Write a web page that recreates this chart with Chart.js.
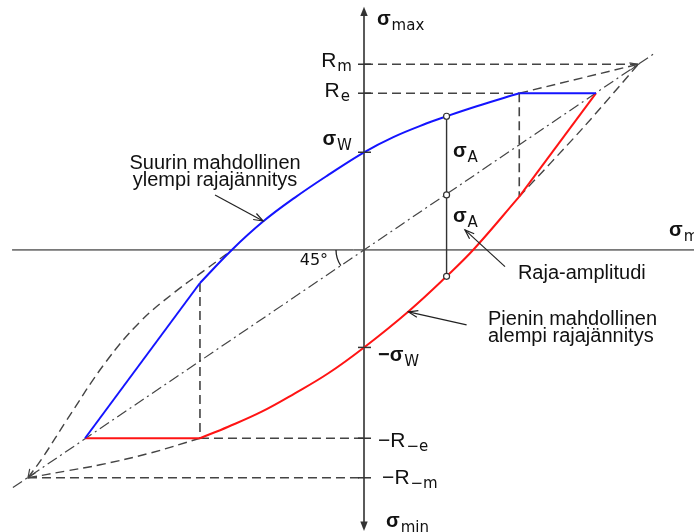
<!DOCTYPE html>
<html><head><meta charset="utf-8">
<script src="https://cdn.jsdelivr.net/npm/chart.js@4/dist/chart.umd.min.js"></script>
<style>html,body{margin:0;padding:0;background:#fff;}#wrap{width:694px;height:532px;position:relative;}</style>
</head><body><div id="wrap"><canvas id="c"></canvas></div>
<script>
// ---- Stress levels (Rm = 100) ----
const Rm = 100, Re = 84.4, sigmaW = 52.6, negSigmaW = -52.5, negRe = -101.4, negRm = -122.7;
const apexLow = -122.5;
// ---- Upper limit curve (sigma_max vs sigma_m) ----
const upperX = [-59.8, -48.2, -36.7, -25.2, -13.0, 0, 10.7, 22.9, 30.1, 41.1, 56.6];
const upperY = [-17.8, 0, 15.4, 28.2, 40.4, 52.6, 60.8, 68.2, 72.0, 77.4, 84.4];
// ---- Lower limit curve (sigma_min vs sigma_m) ----
const lowerX = [-59.8, -49.5, -37.3, -25.2, -13.0, 0, 16.2, 30.1, 40.1, 56.6];
const lowerY = [-101.4, -95.2, -87.1, -77.2, -66.4, -52.5, -33.1, -14.2, 0.5, 28.7];
// ---- Straight limit segments ----
const blueLeftX = [-101.7, -59.8], blueLeftY = [-101.4, -17.8];
const blueTopX = [56.6, 84.6], blueTopY = [84.4, 84.4];
const redBottomX = [-101.7, -59.8], redBottomY = [-101.4, -101.4];
const redRightX = [56.6, 84.6], redRightY = [28.7, 84.4];
// ---- Dashed curve extensions ----
const extUpLeftX = [-122.5, -117.0, -108.3, -94.4, -81.7, -68.9, -58.0, -48.1];
const extUpLeftY = [-122.7, -111.5, -91.5, -60.9, -38.8, -22.6, -10.8, 0];
const extLowLeftX = [-122.5, -108.4, -96.2, -78.0, -59.8];
const extLowLeftY = [-122.7, -119.0, -115.7, -109.4, -101.4];
const extUpRightX = [56.6, 100], extUpRightY = [84.4, 100];
const extLowRightX = [56.6, 80, 100], extLowRightY = [28.7, 66, 100];
// ---- 45 degree line ----
const diagX = [-128, 106], diagY = [-128, 106];
// ---- sigma_A example at sigma_m ----
const sigmaAX = 30.1, sigmaAY = [72.0, 29.6, -14.2];

const P = (xs, ys) => xs.map((x, i) => ({x, y: ys[i]}));
const BLUE = '#1414ff', RED = '#ff1414', DK = '#444';
const dash = [9, 5], dashDot = [11, 4, 2, 4];

function ds(data, color, width, d, tension) {
  return {data, borderColor: color, borderWidth: width, borderDash: d || [], showLine: true,
    pointRadius: 0, fill: false, tension: tension || 0};
}

const datasets = [
  ds(P(upperX, upperY), BLUE, 2, null, 0.4),
  ds(P(lowerX, lowerY), RED, 2, null, 0.4),
  ds(P(blueLeftX, blueLeftY), BLUE, 2),
  ds(P(blueTopX, blueTopY), BLUE, 2),
  ds(P(redBottomX, redBottomY), RED, 2),
  ds(P(redRightX, redRightY), RED, 2),
  ds(P(extUpLeftX, extUpLeftY), DK, 1.4, dash, 0.4),
  ds(P(extLowLeftX, extLowLeftY), DK, 1.4, dash, 0.4),
  ds(P(extUpRightX, extUpRightY), DK, 1.4, dash),
  ds(P(extLowRightX, extLowRightY), DK, 1.4, dash, 0.3),
  ds(P([0, Rm], [Rm, Rm]), DK, 1.4, dash),
  ds(P([0, upperX[upperX.length-1]], [Re, Re]), DK, 1.4, dash),
  ds(P([-59.8, 0], [negRe, negRe]), DK, 1.4, dash),
  ds(P([apexLow, 0], [negRm, negRm]), DK, 1.4, dash),
  ds(P([56.6, 56.6], [Re, 28.7]), DK, 1.6, dash),
  ds(P([-59.8, -59.8], [-17.8, negRe]), DK, 1.6, dash),
  ds(P(diagX, diagY), DK, 1.2, dashDot),
  ds(P([sigmaAX, sigmaAX], [sigmaAY[0], sigmaAY[2]]), '#333', 1.4),
];

// ---- annotation layout (positions in data units) ----
const FONT = '"Liberation Sans", Arial, sans-serif';
const SUBFONT = '"DejaVu Sans", sans-serif';
const labels = [
  {x: -4.4, y: 102.3, main: 'R', sub: 'm', align: 'right'},
  {x: -5.1, y: 86.2, main: 'R', sub: 'e', align: 'right'},
  {x: -4.4, y: 58.2, main: 'σ', sub: 'W', align: 'right', greek: true},
  {x: 5.1, y: -58.2, main: '−σ', sub: 'W', align: 'left', greek: true},
  {x: 5.1, y: -102.3, main: '−R', sub: '−e', align: 'left'},
  {x: 6.6, y: -122.2, main: '−R', sub: '−m', align: 'left'},
  {x: 4.7, y: 122.8, main: 'σ', sub: 'max', align: 'left', greek: true},
  {x: 8.0, y: -147.5, main: 'σ', sub: 'min', align: 'left', greek: true},
  {x: 32.4, y: 51.7, main: 'σ', sub: 'A', align: 'left', greek: true},
  {x: 32.4, y: 16.7, main: 'σ', sub: 'A', align: 'left', greek: true},
  {x: 111.2, y: 9.2, main: 'σ', sub: 'm', align: 'left', greek: true},
];
const texts = [
  {x: -54.3, y: 46.3, t: 'Suurin mahdollinen', align: 'center'},
  {x: -54.3, y: 37.2, t: 'ylempi rajajännitys', align: 'center'},
  {x: 56.1, y: -12.9, t: 'Raja-amplitudi', align: 'left'},
  {x: 45.2, y: -37.7, t: 'Pienin mahdollinen', align: 'left'},
  {x: 45.2, y: -46.8, t: 'alempi rajajännitys', align: 'left'},
  {x: -13.1, y: -5.9, t: '45°', align: 'right', size: 16, font: SUBFONT},
];
const arrows = [
  {from: [-54.3, 29.6], to: [-36.8, 15.6]},
  {from: [51.4, -9.0], to: [36.8, 10.8]},
  {from: [37.4, -40.4], to: [16.2, -33.4]},
];
const ticks = [Rm, Re, sigmaW, negSigmaW, negRe, negRm];

function arrowHead(ctx, x1, y1, x2, y2, len, ang, filled) {
  const a = Math.atan2(y2 - y1, x2 - x1);
  ctx.beginPath();
  ctx.moveTo(x2 - len * Math.cos(a - ang), y2 - len * Math.sin(a - ang));
  ctx.lineTo(x2, y2);
  ctx.lineTo(x2 - len * Math.cos(a + ang), y2 - len * Math.sin(a + ang));
  if (filled) { ctx.closePath(); ctx.fill(); } else ctx.stroke();
}

const overlay = {
  id: 'overlay',
  beforeDatasetsDraw(chart) {
    const {ctx, scales: {x, y}} = chart;
    const px = v => x.getPixelForValue(v), py = v => y.getPixelForValue(v);
    ctx.save();
    ctx.strokeStyle = '#111'; ctx.lineWidth = 1;
    ctx.beginPath(); ctx.moveTo(px(-128.3), py(0)); ctx.lineTo(px(121), py(0)); ctx.stroke();
    ctx.strokeStyle = '#5a5a5a'; ctx.fillStyle = '#333'; ctx.lineWidth = 2;
    const x0 = px(0);
    ctx.beginPath(); ctx.moveTo(x0, py(126)); ctx.lineTo(x0, py(-147)); ctx.stroke();
    arrowHead(ctx, x0, py(0), x0, py(131), 10, 0.38, true);
    arrowHead(ctx, x0, py(0), x0, py(-151.3), 10, 0.38, true);
    ctx.restore();
  },
  afterDatasetsDraw(chart) {
    const {ctx, scales: {x, y}} = chart;
    const px = v => x.getPixelForValue(v), py = v => y.getPixelForValue(v);
    ctx.save();
    ctx.strokeStyle = '#333'; ctx.lineWidth = 1.5;
    ticks.forEach(v => { ctx.beginPath(); ctx.moveTo(px(0) - 6, py(v)); ctx.lineTo(px(0) + 7, py(v)); ctx.stroke(); });
    ctx.strokeStyle = DK; ctx.lineWidth = 1.2;
    arrowHead(ctx, px(extUpRightX[0]), py(extUpRightY[0]), px(100), py(100), 9, 0.4, false);
    arrowHead(ctx, px(extUpLeftX[2]), py(extUpLeftY[2]), px(apexLow), py(negRm), 9, 0.4, false);
    ctx.strokeStyle = '#222'; ctx.lineWidth = 1.3;
    const ang = Math.atan2(py(-30) - py(0), px(-30) - px(0));
    ctx.beginPath(); ctx.arc(px(0), py(0), 28, ang, Math.PI); ctx.stroke();
    ctx.strokeStyle = '#222'; ctx.lineWidth = 1.2;
    arrows.forEach(a => {
      const x1 = px(a.from[0]), y1 = py(a.from[1]), x2 = px(a.to[0]), y2 = py(a.to[1]);
      ctx.beginPath(); ctx.moveTo(x1, y1); ctx.lineTo(x2, y2); ctx.stroke();
      arrowHead(ctx, x1, y1, x2, y2, 10, 0.35, false);
    });
    ctx.fillStyle = '#fff'; ctx.strokeStyle = '#333'; ctx.lineWidth = 1.2;
    sigmaAY.forEach(v => { ctx.beginPath(); ctx.arc(px(sigmaAX), py(v), 3, 0, 2 * Math.PI); ctx.fill(); ctx.stroke(); });
    ctx.fillStyle = '#111'; ctx.textBaseline = 'middle';
    texts.forEach(t => {
      ctx.font = (t.size || 20) + 'px ' + (t.font || FONT); ctx.textAlign = t.align;
      ctx.fillText(t.t, px(t.x), py(t.y));
    });
    labels.forEach(l => {
      const mainFont = (l.greek ? 'bold 20px ' : '21px ') + FONT, subFont = '15px ' + SUBFONT;
      ctx.font = mainFont; const wm = ctx.measureText(l.main).width;
      ctx.font = subFont; const ws = ctx.measureText(l.sub).width;
      let x0 = px(l.x); if (l.align === 'right') x0 -= wm + ws + 1;
      const base = py(l.y) + (l.greek ? 3 : 7);
      ctx.textAlign = 'left'; ctx.textBaseline = 'alphabetic';
      ctx.font = mainFont; ctx.fillText(l.main, x0, base);
      ctx.font = subFont; ctx.fillText(l.sub, x0 + wm + 1, base + (l.greek ? 5 : 4));
    });
    ctx.restore();
  }
};

new Chart(document.getElementById('c'), {
  type: 'scatter',
  data: {datasets},
  options: {
    responsive: true, maintainAspectRatio: false, animation: false,
    layout: {padding: 0},
    plugins: {legend: {display: false}, tooltip: {enabled: false}},
    scales: {
      x: {type: 'linear', min: -132.7, max: 120.3, display: false},
      y: {type: 'linear', min: -151.9, max: 134.6, display: false}
    }
  },
  plugins: [overlay]
});
</script></body></html>
